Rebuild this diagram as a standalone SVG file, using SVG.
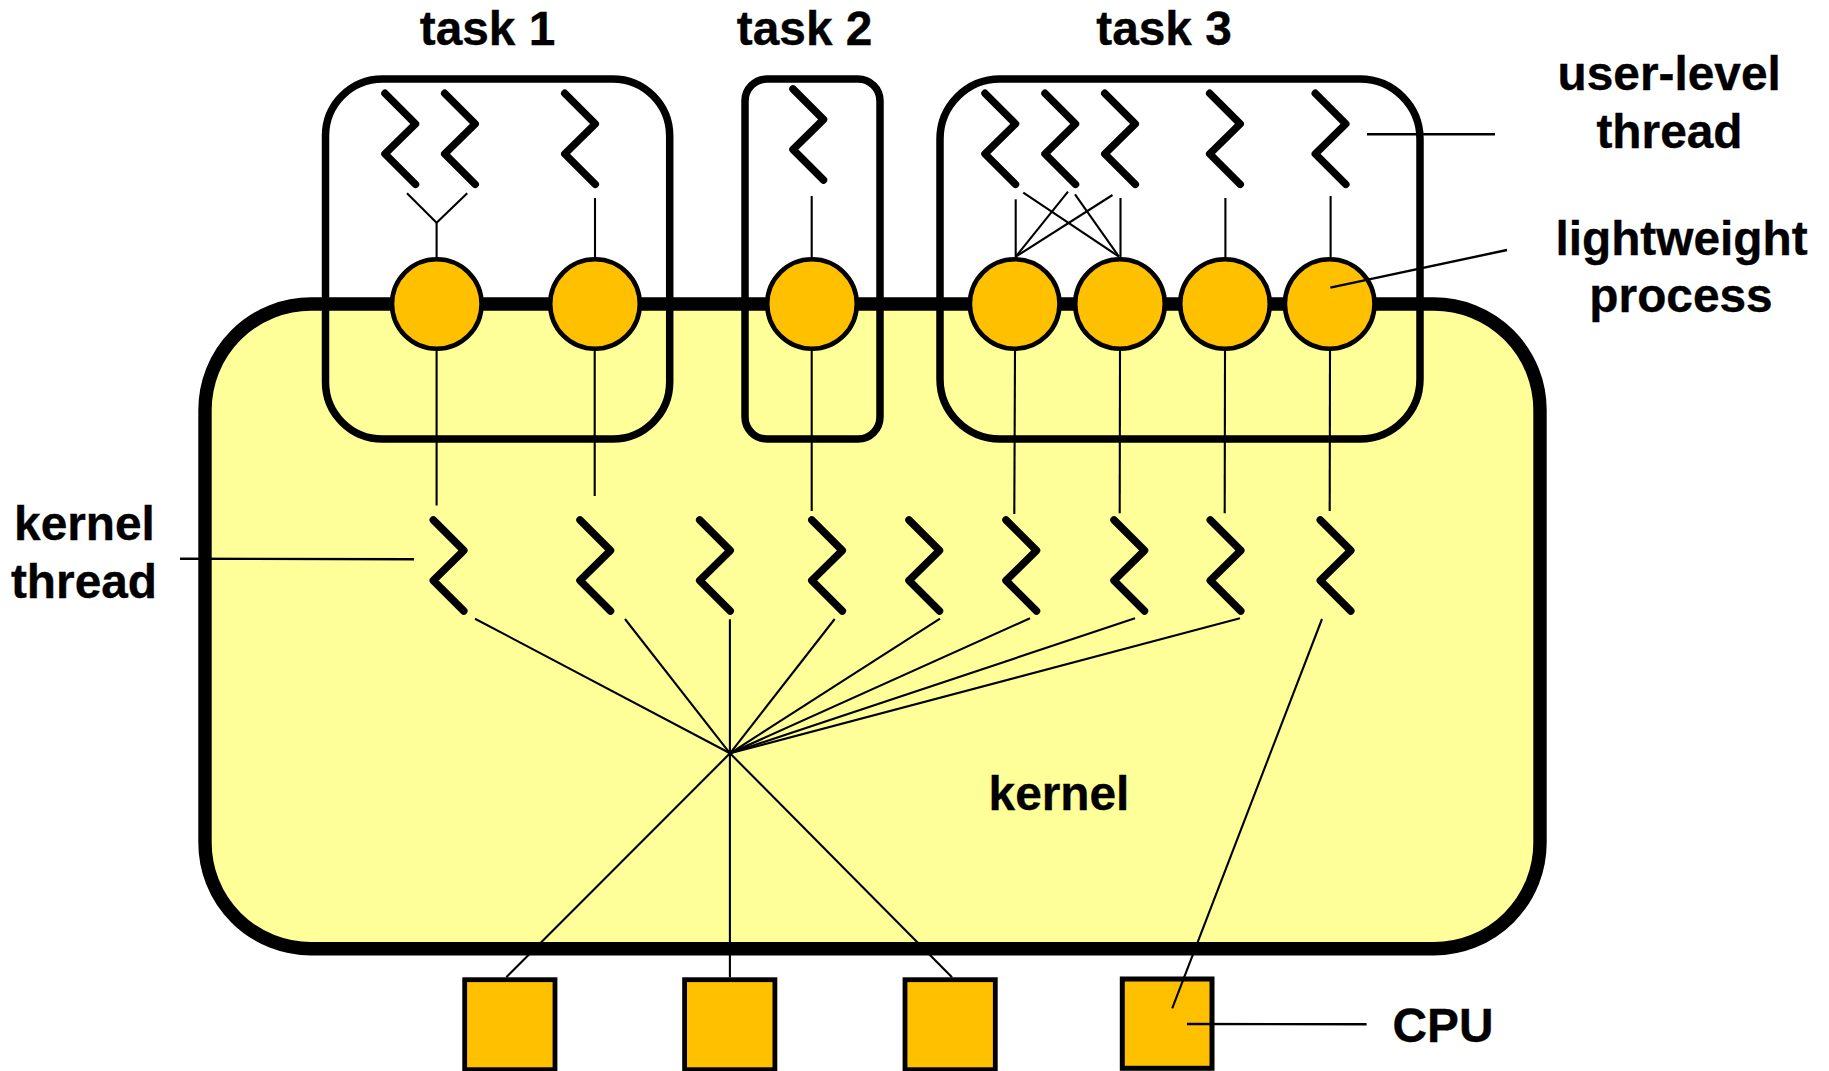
<svg xmlns="http://www.w3.org/2000/svg" xmlns:xlink="http://www.w3.org/1999/xlink" width="1829" height="1071" viewBox="0 0 1829 1071">
<style>
text{font-family:"Liberation Sans",Arial,sans-serif;font-weight:700;font-size:47.8px;fill:#000;stroke:#000;stroke-width:.35;text-anchor:middle}
.task{fill:none;stroke:#000;stroke-width:7.5}
.lwp{fill:#FFC000;stroke:#000;stroke-width:4.6}
.cpu{fill:#FFC000;stroke:#000;stroke-width:4.8}
.z{fill:none;stroke:#000;stroke-width:7.5;stroke-linecap:round;stroke-linejoin:round}
#connectors line{stroke:#000;stroke-width:2.1}
#leaders line{stroke:#000;stroke-width:2.4}
</style>
<defs>
<polyline id="zig" class="z" points="0,0 30.5,30.5 0,60.5 30.5,91"/>
</defs>
<rect width="1829" height="1071" fill="#fff"/>
<g id="kernel"><rect x="205" y="304" width="1335" height="644.7" rx="106" ry="106" fill="#FFFF99" stroke="#000" stroke-width="13.4"/>
<text x="1059" y="810">kernel</text></g>
<g id="task1"><rect class="task" x="325.5" y="79" width="344.2" height="360" rx="57" ry="57"/><text x="487.5" y="45">task 1</text></g>
<g id="task2"><rect class="task" x="745" y="79" width="135" height="360" rx="22" ry="22"/><text x="804.6" y="45">task 2</text></g>
<g id="task3"><rect class="task" x="940" y="79" width="480" height="360" rx="60" ry="60"/><text x="1164" y="45">task 3</text></g>
<g id="ult">
<use xlink:href="#zig" href="#zig" x="385" y="93.3"/><use xlink:href="#zig" href="#zig" x="444.7" y="93.3"/><use xlink:href="#zig" href="#zig" x="564.8" y="93.3"/>
<use xlink:href="#zig" href="#zig" x="793" y="89"/>
<use xlink:href="#zig" href="#zig" x="985" y="93.3"/><use xlink:href="#zig" href="#zig" x="1045" y="93.3"/><use xlink:href="#zig" href="#zig" x="1104.8" y="93.3"/><use xlink:href="#zig" href="#zig" x="1209.7" y="93.3"/><use xlink:href="#zig" href="#zig" x="1315.3" y="93.3"/>
</g>
<g id="klt">
<use xlink:href="#zig" href="#zig" x="433.3" y="520"/><use xlink:href="#zig" href="#zig" x="580" y="520"/><use xlink:href="#zig" href="#zig" x="699.7" y="520"/><use xlink:href="#zig" href="#zig" x="811.8" y="520"/><use xlink:href="#zig" href="#zig" x="909" y="520"/><use xlink:href="#zig" href="#zig" x="1006" y="520"/><use xlink:href="#zig" href="#zig" x="1114" y="520"/><use xlink:href="#zig" href="#zig" x="1210.3" y="520"/><use xlink:href="#zig" href="#zig" x="1320.3" y="520"/>
</g>
<g id="lwp1"><circle class="lwp" cx="436.8" cy="304" r="44.8"/></g>
<g id="lwp2"><circle class="lwp" cx="595" cy="304" r="44.8"/></g>
<g id="lwp3"><circle class="lwp" cx="812" cy="304" r="44.8"/></g>
<g id="lwp4"><circle class="lwp" cx="1014.7" cy="304" r="44.8"/></g>
<g id="lwp5"><circle class="lwp" cx="1120" cy="304" r="44.8"/></g>
<g id="lwp6"><circle class="lwp" cx="1225" cy="304" r="44.8"/></g>
<g id="lwp7"><circle class="lwp" cx="1329.7" cy="304" r="44.8"/></g>
<g id="cpu1"><rect class="cpu" x="464.7" y="979.7" width="90.3" height="90"/></g>
<g id="cpu2"><rect class="cpu" x="684.6" y="979.7" width="90.3" height="90"/></g>
<g id="cpu3"><rect class="cpu" x="905" y="979.7" width="90.3" height="90"/></g>
<g id="cpu4"><rect class="cpu" x="1122.3" y="979" width="89.7" height="89.3" style="stroke-width:5"/></g>
<g id="connectors">
<line x1="407" y1="193.3" x2="436.6" y2="222.7"/><line x1="467.2" y1="193.3" x2="436.6" y2="222.7"/><line x1="436.6" y1="222.7" x2="436.6" y2="257"/>
<line x1="595" y1="198" x2="595" y2="257"/><line x1="811.7" y1="196" x2="811.7" y2="257"/>
<line x1="1015.7" y1="199.3" x2="1015.7" y2="257"/><line x1="1120.5" y1="198" x2="1120.5" y2="257"/><line x1="1225.4" y1="198" x2="1225.4" y2="257"/><line x1="1330.6" y1="196" x2="1330.6" y2="257"/>
<line x1="1023.3" y1="192.7" x2="1119" y2="256.7"/><line x1="1075" y1="194.3" x2="1119" y2="256.7"/><line x1="1068" y1="191.7" x2="1015.7" y2="256.7"/><line x1="1112.5" y1="195" x2="1015.7" y2="256.7"/>
<line x1="436.6" y1="351" x2="436.6" y2="505.5"/><line x1="594.7" y1="351" x2="594.7" y2="496"/><line x1="811.7" y1="351" x2="811.7" y2="511"/>
<line x1="1015" y1="351" x2="1014.3" y2="514"/><line x1="1120" y1="351" x2="1119.7" y2="513.3"/><line x1="1225" y1="351" x2="1224.7" y2="513.3"/><line x1="1330" y1="351" x2="1329.7" y2="511"/>
<line x1="475" y1="618.7" x2="730" y2="753.3"/><line x1="625" y1="619" x2="730" y2="753.3"/><line x1="729.9" y1="619.3" x2="729.9" y2="753.3"/><line x1="834.7" y1="619" x2="730" y2="753.3"/><line x1="940" y1="618.7" x2="730" y2="753.3"/><line x1="1030" y1="618.3" x2="730" y2="753.3"/><line x1="1135" y1="618.3" x2="730" y2="753.3"/><line x1="1240" y1="618.3" x2="730" y2="753.3"/>
<line x1="730" y1="753.3" x2="506.3" y2="977.3"/><line x1="729.9" y1="753.3" x2="729.9" y2="977.3"/><line x1="730" y1="753.3" x2="952" y2="977.3"/>
<line x1="1322" y1="619" x2="1172.2" y2="1008.3"/>
</g>
<g id="leaders">
<line x1="1367" y1="134.2" x2="1495" y2="134.3"/>
<line x1="1330.3" y1="287.7" x2="1507" y2="250"/>
<line x1="180" y1="558.7" x2="414" y2="559.3"/>
<line x1="1187" y1="1024" x2="1366.6" y2="1024.2"/>
</g>
<g id="labels">
<text x="1669.2" y="90">user-level</text><text x="1669.5" y="148">thread</text>
<text x="1681.5" y="255">lightweight</text><text x="1681" y="312">process</text>
<text x="84.5" y="540">kernel</text><text x="84" y="598">thread</text>
<text x="1443" y="1041.7">CPU</text>
</g>
</svg>
